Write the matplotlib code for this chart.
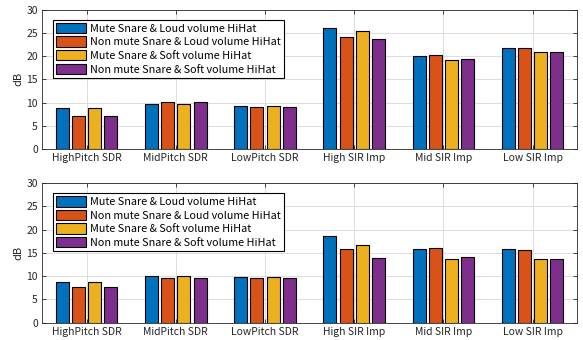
import numpy as np
import matplotlib.pyplot as plt

plt.rcParams['font.family'] = ['Noto Sans CJK JP', 'DejaVu Sans']

categories = ['HighPitch SDR', 'MidPitch SDR', 'LowPitch SDR',
              'High SIR Imp', 'Mid SIR Imp', 'Low SIR Imp']
series_names = ['Mute Snare & Loud volume HiHat',
                'Non mute Snare & Loud volume HiHat',
                'Mute Snare & Soft volume HiHat',
                'Non mute Snare & Soft volume HiHat']
colors = ['#0072BD', '#D95319', '#EDB120', '#7E2F8E']

# top panel
top_mute_loud = [8.9, 9.65, 9.2, 26.0, 20.15, 21.7]
top_nonmute_loud = [7.0, 10.2, 9.07, 24.1, 20.3, 21.7]
top_mute_soft = [8.9, 9.65, 9.2, 25.5, 19.2, 20.9]
top_nonmute_soft = [7.0, 10.2, 9.07, 23.7, 19.4, 20.9]

# bottom panel
bot_mute_loud = [8.7, 10.1, 9.9, 18.75, 15.9, 15.75]
bot_nonmute_loud = [7.6, 9.55, 9.7, 15.95, 16.1, 15.6]
bot_mute_soft = [8.7, 10.1, 9.9, 16.7, 13.8, 13.65]
bot_nonmute_soft = [7.6, 9.55, 9.7, 13.95, 14.1, 13.65]


def draw_panel(ax, data):
    x = np.arange(1, len(categories) + 1)
    n = len(data)
    group_w = min(0.8, n / (n + 1.5))
    for i, vals in enumerate(data):
        off = (2 * i + 1) * group_w / (2 * n) - group_w / 2
        ax.bar(x + off, vals, width=group_w / n * 0.8, color=colors[i],
               edgecolor='black', linewidth=0.8, label=series_names[i], zorder=3)
    ax.set_xlim(0.5, 6.5)
    ax.set_ylim(0, 30)
    ax.set_xticks(x)
    ax.set_xticklabels(categories, fontsize=7.5, color='#262626')
    ax.set_yticks(range(0, 31, 5))
    ax.tick_params(axis='y', labelsize=7.5, labelcolor='#262626')
    ax.set_ylabel('dB', fontsize=8, color='#262626', labelpad=2)
    ax.tick_params(direction='in', top=True, right=True, length=3,
                   width=0.6, color='#262626', pad=3)
    ax.grid(True, color='#dcdcdc', linewidth=0.7, zorder=0)
    ax.set_axisbelow(True)
    for s in ax.spines.values():
        s.set_color('#262626')
        s.set_linewidth(0.6)
    leg = ax.legend(loc='upper left', bbox_to_anchor=(0.02, 0.93), fontsize=7.8,
                    fancybox=False, framealpha=1, edgecolor='black',
                    handlelength=2.8, handleheight=1.1, handletextpad=0.3,
                    borderpad=0.3, labelspacing=0.25, borderaxespad=0)
    leg.get_frame().set_linewidth(0.8)


fig = plt.figure(figsize=(5.83, 3.40), dpi=100)
ax1 = fig.add_axes([0.072, 0.562, 0.918, 0.409])
ax2 = fig.add_axes([0.072, 0.051, 0.918, 0.410])

draw_panel(ax1, [top_mute_loud, top_nonmute_loud, top_mute_soft, top_nonmute_soft])
draw_panel(ax2, [bot_mute_loud, bot_nonmute_loud, bot_mute_soft, bot_nonmute_soft])

fig.savefig('out.png', dpi=100)
